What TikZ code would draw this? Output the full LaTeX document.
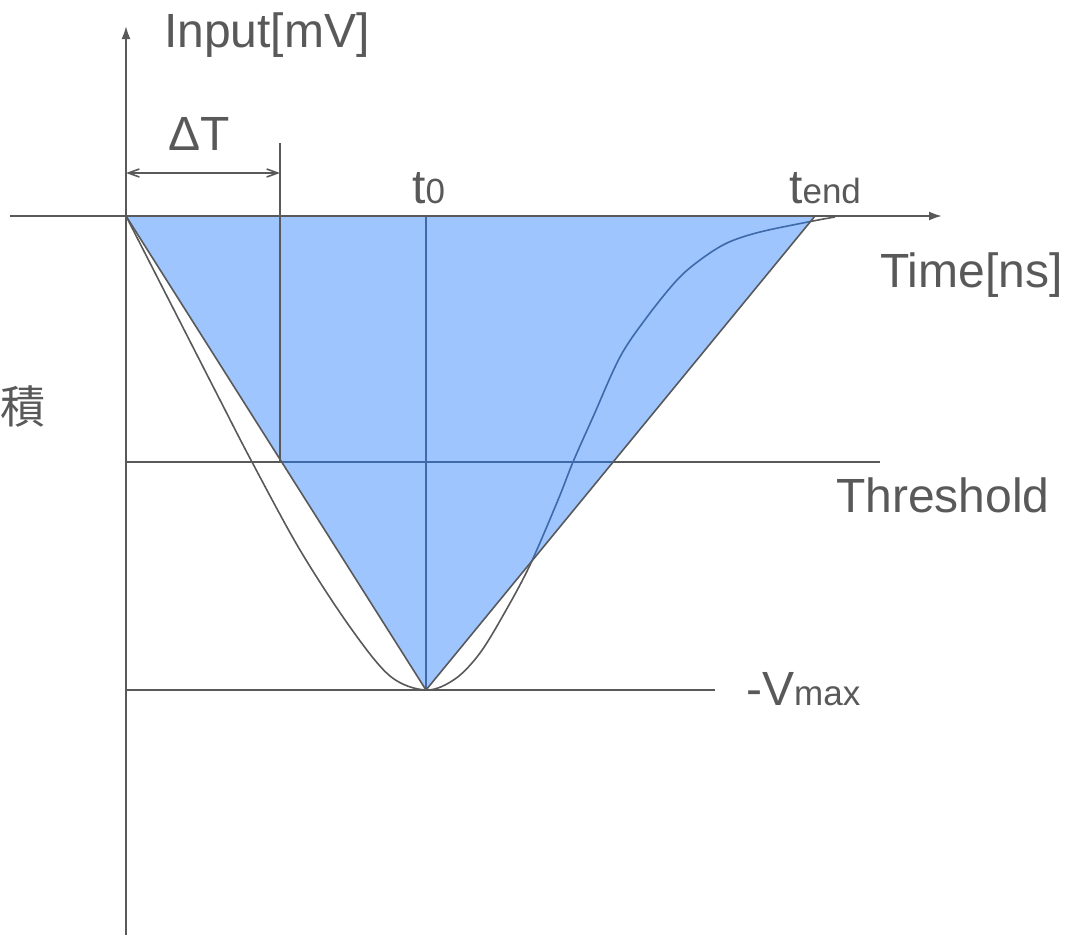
\documentclass[tikz,border=0pt]{standalone}
\usepackage{fontspec}
\setmainfont{Liberation Sans}
\newfontfamily\cjkfont{Noto Sans CJK JP}
\usetikzlibrary{arrows.meta}
\definecolor{linegray}{RGB}{89,89,89}
\definecolor{fillblue}{RGB}{159,197,254}
\definecolor{innerblue}{RGB}{62,106,170}
\tikzset{
  lbl/.style={inner sep=0pt, anchor=base west, text=linegray, font=\fontsize{48}{56}\selectfont},
  axisline/.style={draw=linegray, line width=2pt},
  thinline/.style={draw=linegray, line width=1.6pt},
  blueline/.style={draw=innerblue, line width=1.6pt},
}
\newcommand{\sm}[1]{{\fontsize{35}{40}\selectfont #1}}
\newcommand{\pulsecurve}{plot[smooth, tension=0.55] coordinates {(126,216) (173,308) (220,400) (252,462) (300,550) (350,627) (390,676) (426,690) (455,679) (480,653) (505,612) (530,565) (558,500) (573,462) (593,417) (620,357) (647,317) (677,280) (700,260) (727,243) (760,232) (813,221) (835,217)}}
\begin{document}
\begin{tikzpicture}[x=1pt,y=-1pt]
\useasboundingbox (0,0) rectangle (1065,935);
% key points
\coordinate (O) at (126,216);
\coordinate (E) at (815,216);
\coordinate (M) at (426,690);
\coordinate (T0top) at (426,216);
\coordinate (Yb) at (126,935);
\coordinate (Yt) at (126,26);
\coordinate (Xl) at (10,216);
\coordinate (Xr) at (942,216);
\coordinate (ThL) at (126,462);
\coordinate (ThR) at (880,462);
\coordinate (VmL) at (126,690);
\coordinate (VmR) at (715,690);
\coordinate (DTtop) at (280,143);
\coordinate (DTbot) at (280,462);
\coordinate (DAl) at (126,173);
\coordinate (DAr) at (280,173);
% under-layer lines
\draw[thinline] (ThL) -- (ThR);
\draw[thinline] (T0top) -- (M);
\draw[thinline] \pulsecurve;
% fill
\fill[fillblue] (O) -- (E) -- (M) -- cycle;
\begin{scope}
  \clip (O) -- (E) -- (M) -- cycle;
  \draw[blueline] (ThL) -- (ThR);
  \draw[blueline] (T0top) -- (M);
  \draw[blueline] \pulsecurve;
\end{scope}
% triangle edges
\draw[thinline, line join=round] (E) -- (M) -- (O);
% other lines
\draw[thinline] (VmL) -- (VmR);
\draw[thinline] (DTtop) -- (DTbot);
\draw[thinline, {Straight Barb[length=11pt,width=8pt]}-{Straight Barb[length=11pt,width=8pt]}] (DAl) -- (DAr);
\draw[axisline, -{Latex[length=13pt,width=9pt]}] (Yb) -- (Yt);
\draw[axisline, -{Latex[length=13pt,width=9pt]}] (Xl) -- (Xr);
% labels
\node[lbl] (lin) at (164,47) {Input[mV]};
\node[lbl] (ldt) at (168,150) {ΔT};
\node[lbl] (lt0) at (412,203) {t\sm{0}};
\node[lbl] (lte) at (789,203) {t\sm{end}};
\node[lbl] (ltime) at (880,287) {Time[ns]};
\node[lbl] (lth) at (836,512) {Threshold};
\node[lbl] (lvm) at (746,705) {-V\sm{max}};
\node[inner sep=0pt, anchor=center, text=linegray, font=\cjkfont\fontsize{45}{50}\selectfont] (lcjk) at (23,406) {積};
\end{tikzpicture}
\end{document}
